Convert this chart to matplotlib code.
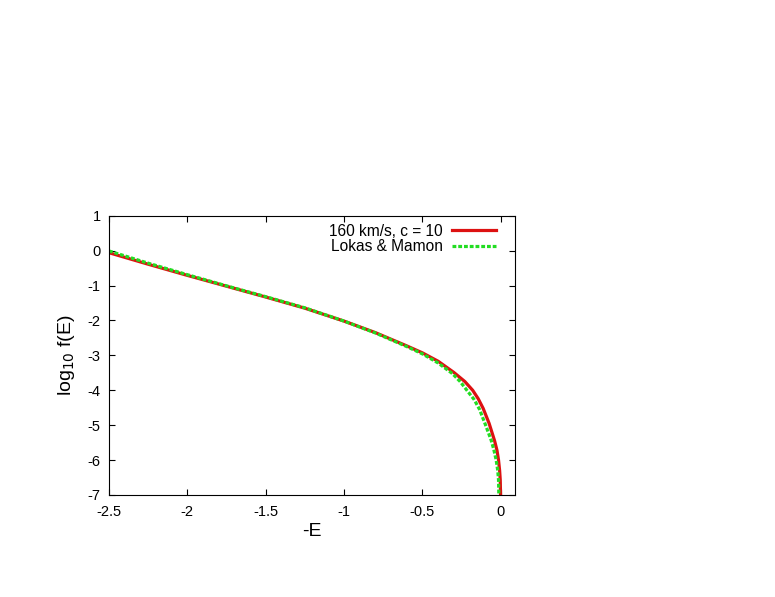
import matplotlib
matplotlib.use("Agg")
import matplotlib.pyplot as plt

plt.rcParams['font.family'] = ['Liberation Sans', 'DejaVu Sans']
plt.rcParams['axes.unicode_minus'] = False

# model curve (160 km/s, c = 10)
x_model = [-2.5, -2.25, -2.0, -1.75, -1.5, -1.25, -1.0, -0.8, -0.6, -0.5, -0.4,
           -0.3, -0.23, -0.18, -0.145, -0.113, -0.075, -0.04, -0.025, -0.015,
           -0.008, -0.004, -0.002]
y_model = [-0.06, -0.39, -0.71, -1.02, -1.33, -1.65, -2.02, -2.35, -2.73, -2.93, -3.17,
           -3.49, -3.75, -4.0, -4.24, -4.52, -4.95, -5.45, -5.72, -6.0,
           -6.3, -6.57, -7.0]

# Lokas & Mamon analytic curve
x_lm = [-2.5, -2.25, -2.0, -1.75, -1.5, -1.25, -1.0, -0.8, -0.6, -0.5, -0.4,
        -0.31, -0.26, -0.217, -0.17, -0.136, -0.10, -0.062, -0.045, -0.03,
        -0.02, -0.015, -0.013]
y_lm = [-0.01, -0.36, -0.69, -1.01, -1.32, -1.64, -2.02, -2.36, -2.75, -2.96, -3.22,
        -3.52, -3.75, -4.0, -4.27, -4.55, -4.97, -5.43, -5.7, -6.0,
        -6.3, -6.57, -7.0]

xticks = [-2.5, -2, -1.5, -1, -0.5, 0]
xticklabels = ['-2.5', '-2', '-1.5', '-1', '-0.5', '0']
yticks = [1, 0, -1, -2, -3, -4, -5, -6, -7]

fig = plt.figure(figsize=(7.75, 5.97), dpi=100)
ax = fig.add_axes([0.1406, 0.1709, 0.5239, 0.4678])

ax.plot(x_model, y_model, color='#dd1111', lw=2.3, label='160 km/s, c = 10')
ax.plot(x_lm, y_lm, color='#22dd22', lw=2.3, linestyle=(0, (1.2, 0.6)),
        label='Lokas & Mamon')

ax.set_xlim(-2.5, 0.09)
ax.set_ylim(-7, 1)
ax.set_xticks(xticks)
ax.set_xticklabels(xticklabels)
ax.set_yticks(yticks)
ax.set_yticklabels([str(v) for v in yticks])

ax.tick_params(direction='in', length=4.5, width=0.8, top=True, right=True,
               labelsize=10.5)
ax.tick_params(axis='x', pad=7)
ax.tick_params(axis='y', pad=6)
for s in ax.spines.values():
    s.set_linewidth(0.8)

ax.set_xlabel('-E', fontsize=14, labelpad=3)
ax.set_ylabel(r'log$_{10}$ f(E)', fontsize=14, labelpad=8)

leg = ax.legend(loc='upper right', frameon=False, fontsize=11.2, markerfirst=False,
                handlelength=2.8, handletextpad=0.6, borderaxespad=0.2,
                labelspacing=0.05, bbox_to_anchor=(0.975, 1.005))

fig.savefig('out.png', dpi=100)
